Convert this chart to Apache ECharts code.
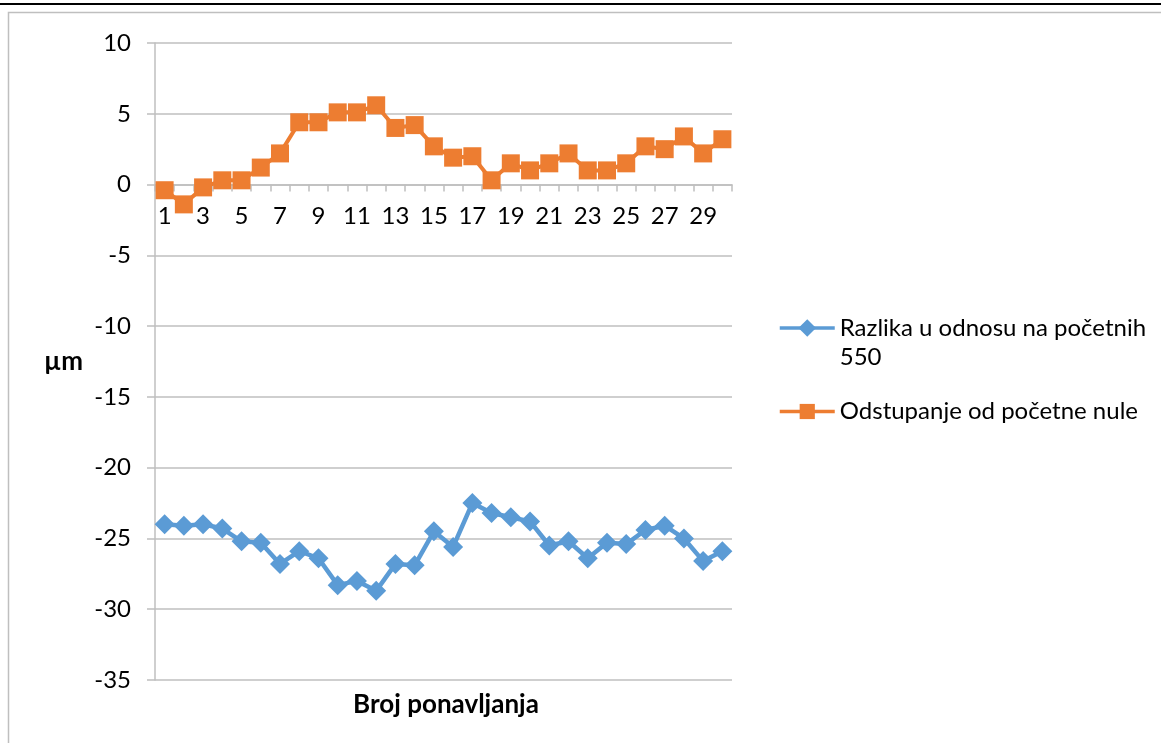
<!DOCTYPE html>
<html>
<head>
<meta charset="utf-8">
<script src="https://cdn.jsdelivr.net/npm/echarts@6/dist/echarts.min.js"></script>
<style>
html,body{margin:0;padding:0;background:#fff;}
#chart{width:1161px;height:743px;}
</style>
</head>
<body>
<div id="chart"></div>
<script>
const categories = ['1','2','3','4','5','6','7','8','9','10','11','12','13','14','15','16','17','18','19','20','21','22','23','24','25','26','27','28','29','30'];
const blueName = 'Razlika u odnosu na početnih 550';
const orangeName = 'Odstupanje od početne nule';
const blueValues = [-24.0,-24.1,-24.0,-24.3,-25.2,-25.3,-26.8,-25.9,-26.4,-28.3,-28.0,-28.7,-26.8,-26.9,-24.5,-25.6,-22.5,-23.2,-23.5,-23.8,-25.5,-25.2,-26.4,-25.3,-25.4,-24.4,-24.1,-25.0,-26.6,-25.9];
const orangeValues = [-0.4,-1.4,-0.2,0.3,0.3,1.2,2.2,4.4,4.4,5.1,5.1,5.6,4.0,4.2,2.7,1.9,2.0,0.3,1.5,1.0,1.5,2.2,1.0,1.0,1.5,2.7,2.5,3.4,2.2,3.2];
const yMin = -35, yMax = 10, yStep = 5;
const yAxisName = 'µm';
const xAxisName = 'Broj ponavljanja';

const FONT = 'Lato';
const FS = 24;
const GRID = '#BFBFBF';
const BLUE = '#5B9BD5';
const ORANGE = '#ED7D31';

const W = 1161, H = 743;
const gridTop = 43, gridBottom = 63;
const plotH = H - gridTop - gridBottom;
// pixel distance from bottom of the plot to the value 0 on the y scale
const zeroShift = plotH * (0 - yMin) / (yMax - yMin);

const chart = echarts.init(document.getElementById('chart'), null, {renderer: 'canvas'});
chart.setOption({
  animation: false,
  backgroundColor: '#fff',
  textStyle: {fontFamily: FONT},
  graphic: [
    {type: 'rect', shape: {x: 0, y: 3, width: W, height: 2}, style: {fill: '#000'}, z: 100},
    {type: 'rect', shape: {x: 8.5, y: 12.5, width: 1200, height: 800}, style: {fill: 'none', stroke: GRID, lineWidth: 1.5}, z: -1}
  ],
  title: {
    text: xAxisName,
    left: 441, top: 687, textAlign: 'center',
    textStyle: {fontFamily: FONT, fontSize: 26, fontWeight: 'bold', color: '#000'}
  },
  legend: [
    {
      data: [blueName], orient: 'vertical', left: 773, top: 282,
      itemWidth: 55, itemHeight: 22, itemGap: 0,
      lineStyle: {width: 3.5},
      formatter: function () { return '{s| }\n{t|Razlika u odnosu na početnih}\n{t|550}'; },
      textStyle: {
        color: '#000', fontFamily: FONT, fontSize: FS,
        rich: {s: {lineHeight: 29, fontSize: FS, fontFamily: FONT}, t: {lineHeight: 29, fontSize: FS, fontFamily: FONT, color: '#000'}}
      }
    },
    {
      data: [orangeName], orient: 'vertical', left: 773, top: 392,
      itemWidth: 55, itemHeight: 19,
      lineStyle: {width: 3.5},
      textStyle: {color: '#000', fontFamily: FONT, fontSize: FS, lineHeight: 29}
    }
  ],
  grid: {left: 155, right: 429, top: gridTop, bottom: gridBottom, containLabel: false},
  xAxis: {
    type: 'category',
    data: categories,
    boundaryGap: true,
    position: 'bottom',
    offset: -zeroShift,
    axisLine: {show: true, onZero: false, lineStyle: {color: GRID, width: 1.5}},
    axisTick: {show: true, interval: 0, length: 7, inside: false, lineStyle: {color: GRID, width: 1.5}},
    axisLabel: {interval: 1, color: '#000', fontFamily: FONT, fontSize: FS, margin: 20},
    splitLine: {show: false}
  },
  yAxis: {
    type: 'value',
    min: yMin, max: yMax, interval: yStep,
    name: yAxisName,
    nameLocation: 'middle', nameRotate: 0, nameGap: 72,
    nameTextStyle: {fontFamily: FONT, fontSize: 26, fontWeight: 'bold', color: '#000', padding: [10, 0, 0, 0]},
    axisLine: {show: true, lineStyle: {color: GRID, width: 1.5}},
    axisTick: {show: true, length: 8, lineStyle: {color: GRID, width: 1.5}},
    axisLabel: {color: '#000', fontFamily: FONT, fontSize: FS, margin: 24},
    splitLine: {show: true, lineStyle: {color: GRID, width: 1.5}}
  },
  series: [
    {
      name: blueName, type: 'line', data: blueValues,
      symbol: 'diamond', symbolSize: 20, showAllSymbol: true,
      lineStyle: {color: BLUE, width: 4.5},
      itemStyle: {color: BLUE},
      z: 3
    },
    {
      name: orangeName, type: 'line', data: orangeValues,
      symbol: 'rect', symbolSize: 18, showAllSymbol: true,
      lineStyle: {color: ORANGE, width: 4},
      itemStyle: {color: ORANGE},
      z: 4
    }
  ]
});
</script>
</body>
</html>
